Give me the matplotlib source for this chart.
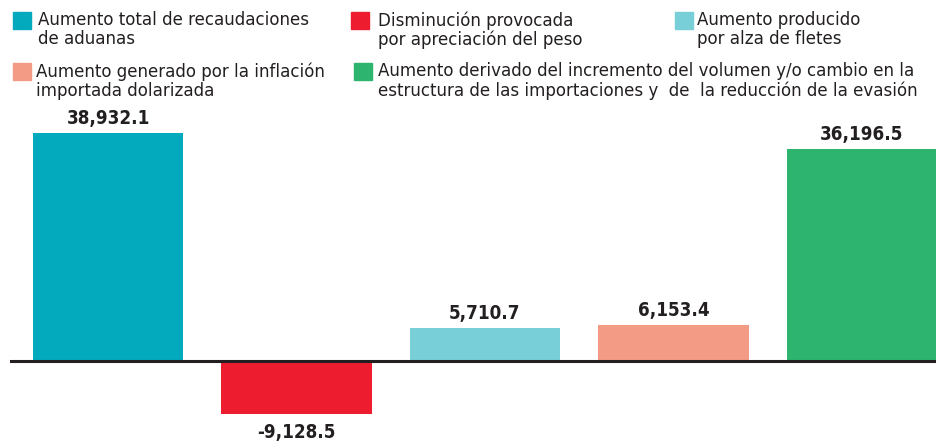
import matplotlib
matplotlib.use("Agg")
import matplotlib.pyplot as plt
from matplotlib.patches import Rectangle

# datos (millones)
categorias = [
    "Aumento total de recaudaciones\nde aduanas",
    "Disminución provocada\npor apreciación del peso",
    "Aumento producido\npor alza de fletes",
    "Aumento generado por la inflación\nimportada dolarizada",
    "Aumento derivado del incremento del volumen y/o cambio en la\nestructura de las importaciones y  de  la reducción de la evasión",
]
valores = [38932.1, -9128.5, 5710.7, 6153.4, 36196.5]
etiquetas = ["38,932.1", "-9,128.5", "5,710.7", "6,153.4", "36,196.5"]
colores = ["#03a9bc", "#ed1c2e", "#79cfd8", "#f39b85", "#2db56f"]

texto = "#231f20"
plt.rcParams["font.family"] = ["DejaVu Sans"]
plt.rcParams["font.stretch"] = "condensed"

W, H = 937, 443
fig = plt.figure(figsize=(W / 100, H / 100), dpi=100)

# ejes de las barras (en pixeles: de x=10 a 937, de y=110 a 443)
ax = fig.add_axes([10 / W, 0, (W - 10) / W, (H - 110) / H])
x = range(len(valores))
ax.bar(x, valores, width=0.796, color=colores, zorder=2)
ax.axhline(0, color="#231f20", lw=2.2, zorder=3)
ax.set_xlim(-0.52, 4.398)
ax.set_ylim(-14017, 42906)
ax.axis("off")

for i, (v, t) in enumerate(zip(valores, etiquetas)):
    if v >= 0:
        ax.annotate(t, (i, v), xytext=(0, 3.5), textcoords="offset points",
                    ha="center", va="bottom", fontsize=13.5, fontweight="bold", color=texto)
    else:
        ax.annotate(t, (i, v), xytext=(0, -6), textcoords="offset points",
                    ha="center", va="top", fontsize=13.5, fontweight="bold", color=texto)

# leyenda hecha a mano
lg = fig.add_axes([0, 0, 1, 1])
lg.set_xlim(0, W)
lg.set_ylim(H, 0)
lg.axis("off")
pos = [(13, 12, 38), (351, 12, 378), (675, 12, 697), (13, 63, 36), (354, 63, 378)]
for (sx, sy, tx), c, nombre in zip(pos, colores, categorias):
    lg.add_patch(Rectangle((sx, sy), 18, 17, color=c))
    lg.text(tx, sy - 1, nombre, ha="left", va="top", fontsize=13.3,
            color=texto, linespacing=1.1)

fig.savefig("out.png", dpi=100)
